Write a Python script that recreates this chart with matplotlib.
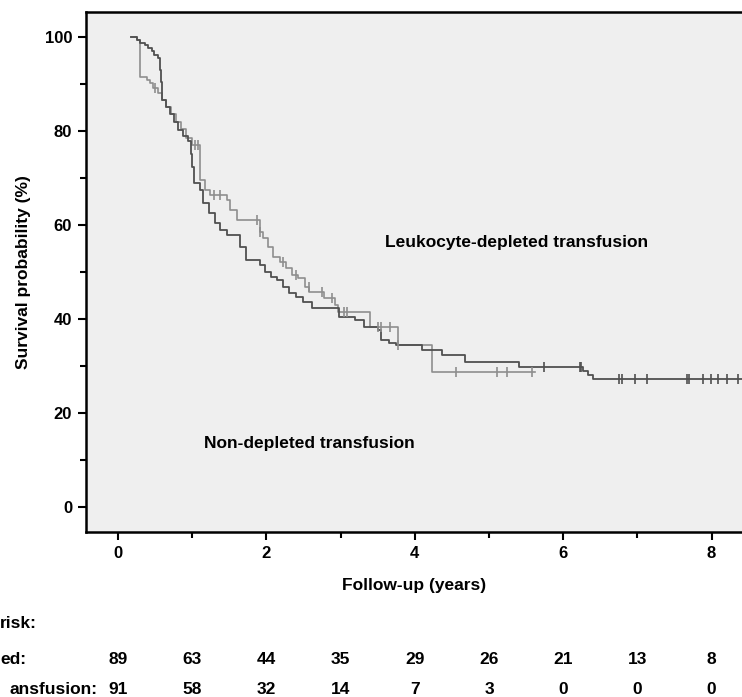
import matplotlib
matplotlib.use("Agg")
import matplotlib.pyplot as plt
import matplotlib.transforms as mtransforms
import numpy as np

# Kaplan-Meier steps (years, survival % after the step)
dark_t = [0.17, 0.25, 0.30, 0.36, 0.40, 0.46, 0.48, 0.54, 0.56, 0.575, 0.59, 0.60,
          0.65, 0.70, 0.75, 0.81, 0.87, 0.95, 0.98, 1.00, 1.03, 1.10, 1.15, 1.22,
          1.31, 1.38, 1.47, 1.65, 1.72, 1.92, 1.98, 2.06, 2.14, 2.22, 2.30, 2.40,
          2.50, 2.62, 2.98, 3.20, 3.32, 3.50, 3.55, 3.65, 3.75, 4.10, 4.37, 4.68,
          5.40, 6.27, 6.33, 6.40, 8.45]
dark_s = [100, 99.4, 98.7, 98.2, 97.6, 97, 96.2, 95.5, 93, 90.5, 88, 86.5,
          85, 83.5, 82, 80.2, 79, 77.8, 75, 72.3, 69, 67.5, 64.7, 62.6,
          60.4, 59, 57.9, 55.3, 52.5, 51.5, 50, 48.9, 48.3, 46.8, 45.6, 44.6,
          43.6, 42.3, 40.4, 39.8, 38.3, 37.7, 35.5, 34.9, 34.4, 33.4, 32.3, 30.9,
          29.8, 28.9, 28.0, 27.2, 27.2]
dark_cens = [5.74, 6.22, 6.24, 6.75, 6.79, 6.97, 7.13, 7.67, 7.69, 7.88, 7.99,
             8.09, 8.21, 8.36]

light_t = [0.17, 0.25, 0.30, 0.39, 0.43, 0.47, 0.54, 0.60, 0.65, 0.72, 0.78, 0.85,
           0.92, 1.00, 1.10, 1.17, 1.24, 1.47, 1.51, 1.60, 1.92, 1.96, 2.02, 2.09,
           2.18, 2.27, 2.34, 2.43, 2.52, 2.58, 2.77, 2.92, 2.97, 3.40, 3.77, 4.23, 5.62]
light_s = [100, 99.3, 91.5, 90.8, 90.2, 89.1, 88, 86.6, 85, 83.5, 82, 80.5,
           78.5, 77, 69.6, 67.4, 66.4, 65.3, 63.2, 61, 58.5, 57.2, 55.3, 53.2,
           52.1, 50.9, 49.4, 48.7, 46.8, 45.7, 44.5, 43, 41.5, 38.3, 34.5, 28.7, 28.7]
light_cens = [0.50, 1.04, 1.08, 1.30, 1.37, 1.87, 1.92, 2.23, 2.40, 2.57, 2.75,
              2.88, 3.04, 3.09, 3.50, 3.55, 3.66, 3.77, 4.56, 5.11, 5.24, 5.58]

# numbers at risk, one column per year of follow-up
risk_years = [0, 1, 2, 3, 4, 5, 6, 7, 8]
risk_row1 = [89, 63, 44, 35, 29, 26, 21, 13, 8]
risk_row2 = [91, 58, 32, 14, 7, 3, 0, 0, 0]
risk_labels = ["risk:", "ed:", "ansfusion:"]

# layout (pixels in the 742x697 picture)
W, H = 742.0, 697.0
label_end_px = [37, 26, 97]
row_px = [623, 659, 690]

plt.rcParams["font.family"] = ["Liberation Sans", "DejaVu Sans"]
plt.rcParams["font.weight"] = "bold"


def surv_at(ts, ss, t):
  """ value of a step curve at time t """
  i = np.searchsorted(ts, t, side="right") - 1
  return ss[max(i, 0)]


fig = plt.figure(figsize=(7.42, 6.97), dpi=100)
ax = fig.add_axes([86/W, 1-532/H, 1-86/W, (532-12)/H])
ax.set_facecolor("#efefef")

dark_col = "#505050"
light_col = "#8e8e8e"

ax.step(light_t, light_s, where="post", color=light_col, lw=1.2)
ax.step(dark_t, dark_s, where="post", color=dark_col, lw=1.3)
ax.plot(light_cens, [surv_at(light_t, light_s, t) for t in light_cens], "|",
        color=light_col, ms=7, mew=1.2)
ax.plot(dark_cens, [surv_at(dark_t, dark_s, t) for t in dark_cens], "|",
        color=dark_col, ms=7, mew=1.2)

ax.set_xlim(-0.431, 8.41)
ax.set_ylim(-5.32, 105.3)
ax.set_xticks([0, 2, 4, 6, 8])
ax.set_xticks([1, 3, 5, 7], minor=True)
ax.set_yticks([0, 20, 40, 60, 80, 100])
ax.set_yticks([10, 30, 50, 70, 90], minor=True)
ax.tick_params(which="major", direction="out", length=6, width=1.5,
               labelsize=12, pad=4)
ax.tick_params(which="minor", direction="out", length=4, width=1.5)
for lab in ax.get_xticklabels() + ax.get_yticklabels():
  lab.set_fontweight("bold")

for s in ["left", "bottom", "top"]:
  ax.spines[s].set_linewidth(1.8)
  ax.spines[s].set_color("black")
ax.spines["right"].set_visible(False)

ax.set_xlabel("Follow-up (years)", fontsize=12.5, fontweight="bold",
              labelpad=12)
ax.set_ylabel("Survival probability (%)", fontsize=12.5, fontweight="bold",
              labelpad=10)

ax.text(3.6, 56.2, "Leukocyte-depleted transfusion", fontsize=12.5,
        fontweight="bold", ha="left", va="center")
ax.text(1.16, 13.6, "Non-depleted transfusion", fontsize=12.5,
        fontweight="bold", ha="left", va="center")

# number at risk table: columns follow the x axis, rows in figure fraction
trans = mtransforms.blended_transform_factory(ax.transData, fig.transFigure)
for lab, xe, y in zip(risk_labels, label_end_px, row_px):
  fig.text(xe/W, 1-y/H, lab, fontsize=12.5, fontweight="bold",
           ha="right", va="center")
for x, a, b in zip(risk_years, risk_row1, risk_row2):
  ax.text(x, 1-row_px[1]/H, str(a), transform=trans, fontsize=12.5,
          fontweight="bold", ha="center", va="center", clip_on=False)
  ax.text(x, 1-row_px[2]/H, str(b), transform=trans, fontsize=12.5,
          fontweight="bold", ha="center", va="center", clip_on=False)

fig.savefig("out.png", dpi=100)
